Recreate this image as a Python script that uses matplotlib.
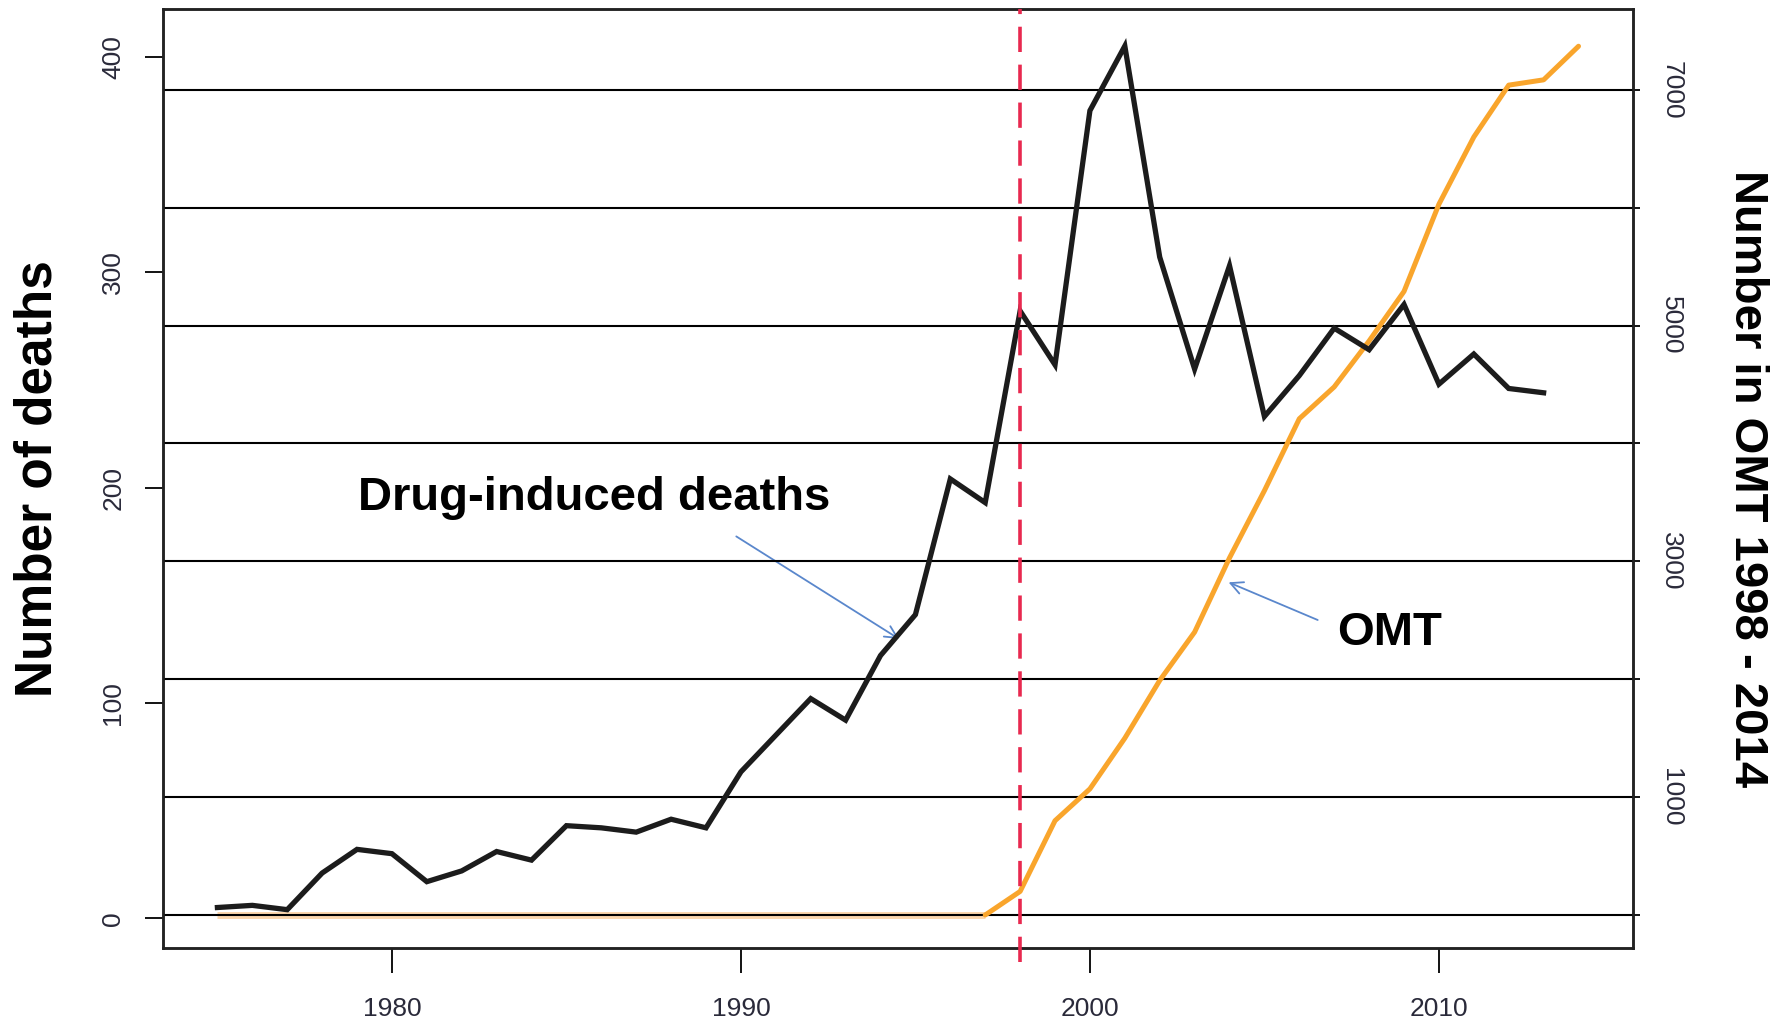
import matplotlib
matplotlib.use('Agg')
import matplotlib.pyplot as plt

plt.rcParams['font.family'] = ['Liberation Sans', 'DejaVu Sans']

# drug-induced deaths, 1975-2013
years_deaths = list(range(1975, 2014))
deaths = [5, 6, 4, 21, 32, 30, 17, 22, 31, 27, 43, 42, 40, 46, 42,
          68, 85, 102, 92, 122, 141, 204, 193, 282, 257, 375, 405, 307,
          255, 303, 233, 252, 274, 264, 285, 248, 262, 246, 244]

# number in OMT, 1975-2014 (zero before 1998)
years_omt = list(range(1975, 2015))
omt = [0] * 23 + [200, 800, 1070, 1500, 1990, 2400, 3030, 3600, 4210,
                  4480, 4870, 5290, 6030, 6600, 7040, 7085, 7370]

grid_right = [0, 1000, 2000, 3000, 4000, 5000, 6000, 7000]
right_labels = [1000, 3000, 5000, 7000]
left_ticks = [0, 100, 200, 300, 400]
x_ticks = [1980, 1990, 2000, 2010]
tick_col = '#2a2a3a'

fig = plt.figure(figsize=(17.87, 10.22), dpi=100)
ax = fig.add_axes([0.0912, 0.0724, 0.8226, 0.9188])
ax2 = ax.twinx()

ax.set_xlim(1973.44, 2015.56)
ax.set_ylim(-13.8, 422.2)
ax2.set_ylim(-280, 7686)

# reference lines on the OMT scale
for v in grid_right:
    ax2.axhline(v, color='black', lw=1.5, zorder=2)

# flat (pre-1998) part of OMT drawn pale, rest in orange
n_flat = omt.index(200)
ax2.plot(years_omt[:n_flat], omt[:n_flat], color='#fbd6ad', lw=5, zorder=1,
         solid_capstyle='butt')
ax2.plot(years_omt[n_flat - 1:], omt[n_flat - 1:], color='#f9a52c', lw=3.6,
         zorder=3, solid_capstyle='round')

ax2.plot(years_deaths, deaths, color='#1c1c1c', lw=3.8, zorder=4,
         solid_joinstyle='miter', transform=ax.transData)

ax2.axvline(1998, ymin=-0.015, ymax=1, color='#e8294f', lw=2.6,
            dashes=(7, 3.5), zorder=5, clip_on=False)

# ticks and labels
ax.set_xticks(x_ticks)
ax.set_xticklabels([str(t) for t in x_ticks], fontsize=19, color=tick_col)
ax.set_yticks(left_ticks)
ax.set_yticklabels([str(t) for t in left_ticks], fontsize=19, color=tick_col,
                   rotation=90, va='center')
ax.tick_params(axis='x', length=18, width=1.3, pad=17)
ax.tick_params(axis='y', length=13, width=1.3, pad=14)

ax2.set_yticks(grid_right)
ax2.set_yticklabels([str(v) if v in right_labels else '' for v in grid_right],
                    fontsize=19, color=tick_col, rotation=-90, va='center')
ax2.tick_params(axis='y', length=5, width=1.3, pad=14)

for a in (ax, ax2):
    for s in a.spines.values():
        s.set_linewidth(1.8)
        s.set_color('#222222')

ax.set_ylabel('Number of deaths', fontsize=37, fontweight='bold', labelpad=28)
ax2.set_ylabel('Number in OMT 1998 - 2014', fontsize=34, fontweight='bold',
               rotation=-90, labelpad=62)

arrow_col = '#5a87cc'
ax.annotate('', xy=(1994.6, 129), xytext=(1989.8, 178),
            arrowprops=dict(arrowstyle='->', color=arrow_col, lw=1.3,
                            mutation_scale=22), zorder=6)
ax.text(1985.8, 195, 'Drug-induced deaths', fontsize=34, fontweight='bold',
        ha='center', va='center', zorder=6)
ax.annotate('', xy=(2003.9, 156.5), xytext=(2006.6, 138),
            arrowprops=dict(arrowstyle='->', color=arrow_col, lw=1.3,
                            mutation_scale=22), zorder=6)
ax.text(2008.6, 132.5, 'OMT', fontsize=34, fontweight='bold',
        ha='center', va='center', zorder=6)

fig.savefig('out.png', dpi=100)
